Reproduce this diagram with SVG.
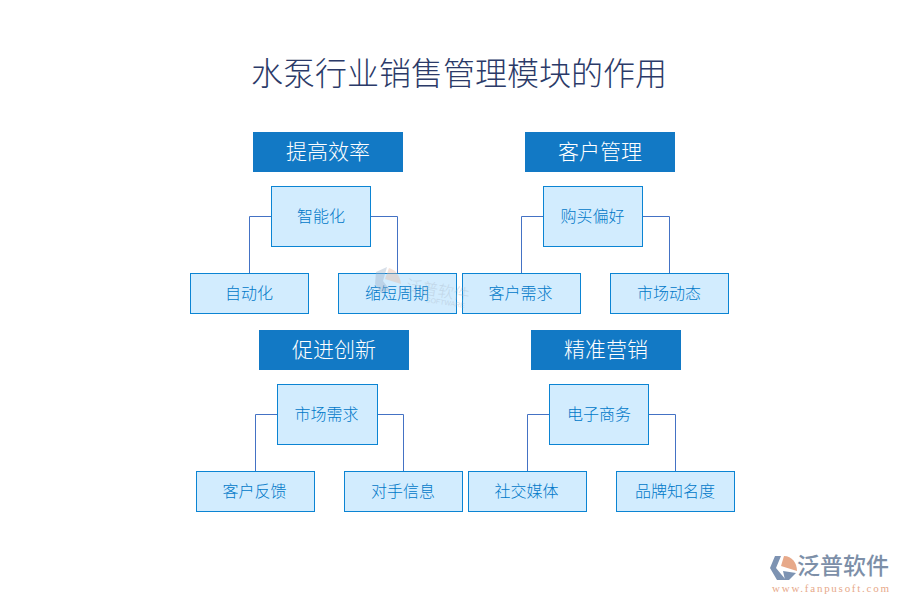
<svg xmlns="http://www.w3.org/2000/svg" width="900" height="600" viewBox="0 0 900 600">
<style>
text{font-family:"Noto Sans CJK SC","Noto Sans CJK JP",sans-serif;text-anchor:middle;font-weight:300}
.h rect{fill:#1279c5}
.h text{fill:#fff;font-size:21px}
.b rect{fill:#d2ecfe;stroke:#0b84d3;stroke-width:1}
.b text{fill:#0078c8;font-size:16px}
.c path{fill:none;stroke:#4472c4;stroke-width:1}
</style>
<rect width="900" height="600" fill="#fff"/>
<text id="title" x="459" y="85" font-size="32" fill="#2b3a68">水泵行业销售管理模块的作用</text>
<g id="connectors" class="c">
<path d="M271.500 216.500H249.500V273.500"/>
<path d="M370.500 216.500H397.500V273.500"/>
<path d="M543.500 216.500H521.500V273.500"/>
<path d="M642.500 216.500H669.500V273.500"/>
<path d="M277.500 414.500H255.500V471.500"/>
<path d="M377.500 414.500H403.500V471.500"/>
<path d="M549.500 414.500H527.500V471.500"/>
<path d="M648.500 414.500H675.500V471.500"/>
</g>
<g id="h1" class="h"><rect x="253" y="132" width="150" height="40"/><text x="328" y="159">提高效率</text></g>
<g id="n1" class="b"><rect x="271.500" y="186.500" width="99" height="60"/><text x="321" y="222">智能化</text></g>
<g id="n2" class="b"><rect x="190.500" y="273.500" width="118" height="40"/><text x="249" y="299">自动化</text></g>
<g id="n3" class="b"><rect x="338.500" y="273.500" width="118" height="40"/><text x="397" y="299">缩短周期</text></g>
<g id="h2" class="h"><rect x="525" y="132" width="150" height="40"/><text x="600" y="159">客户管理</text></g>
<g id="n4" class="b"><rect x="543.500" y="186.500" width="99" height="60"/><text x="592.500" y="222">购买偏好</text></g>
<g id="n5" class="b"><rect x="462.500" y="273.500" width="118" height="40"/><text x="520.500" y="299">客户需求</text></g>
<g id="n6" class="b"><rect x="610.500" y="273.500" width="118" height="40"/><text x="669" y="299">市场动态</text></g>
<g id="h3" class="h"><rect x="259" y="330" width="150" height="40"/><text x="334" y="357">促进创新</text></g>
<g id="n7" class="b"><rect x="277.500" y="384.500" width="100" height="60"/><text x="326.500" y="420">市场需求</text></g>
<g id="n8" class="b"><rect x="196.500" y="471.500" width="118" height="40"/><text x="254.500" y="497">客户反馈</text></g>
<g id="n9" class="b"><rect x="344.500" y="471.500" width="118" height="40"/><text x="403" y="497">对手信息</text></g>
<g id="h4" class="h"><rect x="531" y="330" width="150" height="40"/><text x="606" y="357">精准营销</text></g>
<g id="n10" class="b"><rect x="549.500" y="384.500" width="99" height="60"/><text x="599" y="420">电子商务</text></g>
<g id="n11" class="b"><rect x="468.500" y="471.500" width="118" height="40"/><text x="526.500" y="497">社交媒体</text></g>
<g id="n12" class="b"><rect x="616.500" y="471.500" width="118" height="40"/><text x="675" y="497">品牌知名度</text></g>
<g id="watermark" opacity="0.4">
<path d="M387 267L376 272L375 284L381 293L390 290L383 281Z" fill="#9db0c8"/>
<path d="M389 268C396 270 400 276 401 284L385 279Z" fill="#e8b9a2"/>
<text x="437" y="296" font-size="16" fill="#a9b6c6" transform="rotate(9 437 296)">泛普软件</text>
<text x="445" y="305" font-size="7" fill="#a9b6c6" transform="rotate(9 445 305)" style="font-family:'Liberation Sans',sans-serif">SOFTWARE</text>
</g>
<g id="logo">
<path d="M781 556H775L770 568L777 580H786L776 568Z" fill="#7d93b2"/>
<path d="M784 556C792 556 797 563 797 571L781 566Z" fill="#e7a98a"/>
<path d="M783 571L796 573L789 580H785Z" fill="#7d93b2"/>
<text x="843" y="574" font-size="23" style="font-weight:500" fill="#7d8fa8">泛普软件</text>
<text x="830.500" y="592" font-size="11" fill="#e7a98a" textLength="117" style="font-family:'Liberation Serif',serif;font-weight:400">www.fanpusoft.com</text>
</g>
</svg>
